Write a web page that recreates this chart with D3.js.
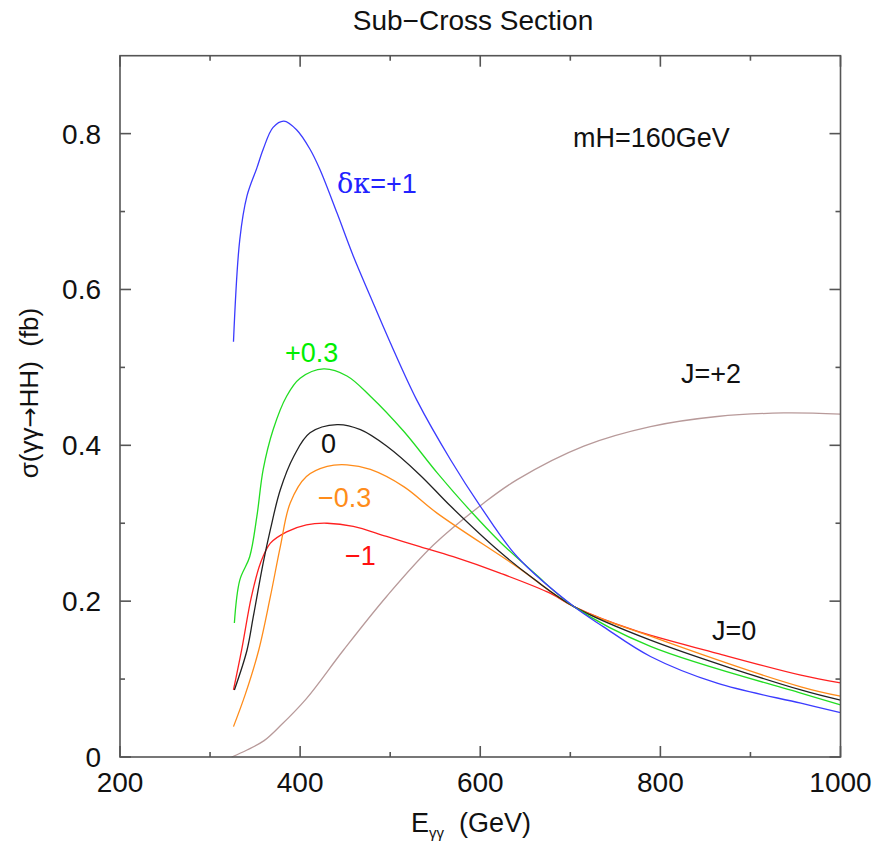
<!DOCTYPE html>
<html><head><meta charset="utf-8">
<script src="https://cdn.jsdelivr.net/npm/d3@7"></script>
<style>body{margin:0;background:#fff}svg{font-family:"Liberation Sans",Arial,sans-serif}</style>
</head><body><svg id="c" width="890" height="843"></svg>
<script>
// ---- data ----
const xTicksMajor = [200, 400, 600, 800, 1000];
const xTicksMinor = [300, 500, 700, 900];
const yTicksMajor = [0, 0.2, 0.4, 0.6, 0.8];
const yTicksMinor = [0.1, 0.3, 0.5, 0.7];
const yTickLabels = ["0", "0.2", "0.4", "0.6", "0.8"];

const ePlus1 = [326, 333, 341, 352, 359, 370, 382, 396, 411, 422, 441, 459, 478, 500, 530, 567, 600, 641, 704, 737, 789, 863, 956, 1000];
const sPlus1 = [0.533, 0.664, 0.72, 0.756, 0.78, 0.808, 0.816, 0.805, 0.78, 0.754, 0.698, 0.643, 0.591, 0.532, 0.457, 0.3815, 0.322, 0.257, 0.193, 0.167, 0.129, 0.0947, 0.069, 0.057];

const ePlus03 = [327, 333, 344, 352, 359, 370, 385, 400, 426, 452, 478, 515, 552, 589, 622, 660, 704, 789, 956, 1000];
const sPlus03 = [0.172, 0.227, 0.257, 0.309, 0.369, 0.42, 0.463, 0.486, 0.498, 0.489, 0.463, 0.418, 0.365, 0.316, 0.276, 0.236, 0.193, 0.142, 0.082, 0.067];

const eZero = [327, 341, 348, 359, 367, 378, 393, 411, 441, 467, 496, 533, 567, 622, 660, 704, 789, 956, 1000];
const sZero = [0.086, 0.137, 0.18, 0.249, 0.292, 0.343, 0.386, 0.416, 0.4265, 0.42, 0.399, 0.362, 0.322, 0.263, 0.228, 0.193, 0.150, 0.086, 0.073];

const eMinus03 = [326, 339, 354, 367, 378, 389, 407, 430, 452, 478, 515, 552, 641, 704, 789, 956, 1000];
const sMinus03 = [0.039, 0.08, 0.137, 0.206, 0.270, 0.326, 0.36, 0.373, 0.375, 0.369, 0.347, 0.313, 0.244, 0.193, 0.155, 0.090, 0.078];

const eMinus1 = [326, 335, 346, 356, 367, 385, 407, 430, 459, 496, 533, 570, 622, 678, 704, 770, 863, 956, 1000];
const sMinus1 = [0.086, 0.137, 0.206, 0.249, 0.2745, 0.289, 0.298, 0.300, 0.296, 0.283, 0.270, 0.257, 0.236, 0.210, 0.193, 0.163, 0.133, 0.105, 0.095];

const eJ2 = [324, 341, 360, 378, 407, 448, 496, 548, 604, 641, 715, 789, 863, 937, 1000];
const sJ2 = [0, 0.009, 0.021, 0.040, 0.075, 0.137, 0.206, 0.272, 0.326, 0.356, 0.399, 0.424, 0.437, 0.4415, 0.440];

const seriesNames = ["δκ=+1", "+0.3", "0", "−0.3", "−1", "J=+2"];

// ---- drawing ----
const svg = d3.select("#c");
const L = 120, R = 840.5, T = 55.7, B = 757;
const x = d3.scaleLinear().domain([200, 1000]).range([L, R]);
const y = d3.scaleLinear().domain([0, 0.9]).range([B, T]);
const axisColor = "#555";

const series = [
  {e: ePlus1, s: sPlus1, c: "#3b3bff"},
  {e: ePlus03, s: sPlus03, c: "#22dd22"},
  {e: eZero, s: sZero, c: "#222"},
  {e: eMinus03, s: sMinus03, c: "#ff8c1a"},
  {e: eMinus1, s: sMinus1, c: "#ff2020"},
  {e: eJ2, s: sJ2, c: "#b89a9a"}
];
const line = d3.line().x(d => x(d[0])).y(d => y(d[1])).curve(d3.curveCatmullRom.alpha(0.5));
const g = svg.append("g");
series.slice().reverse().forEach(sr => {
  g.append("path").attr("d", line(sr.e.map((v, i) => [v, sr.s[i]])))
    .attr("fill", "none").attr("stroke", sr.c).attr("stroke-width", 1.3);
});

// frame
svg.append("rect").attr("x", L).attr("y", T).attr("width", R - L).attr("height", B - T)
  .attr("fill", "none").attr("stroke", axisColor).attr("stroke-width", 1.6);

const MJ = 11, MN = 5;
function tickX(v, len) {
  svg.append("line").attr("x1", x(v)).attr("x2", x(v)).attr("y1", B).attr("y2", B - len).attr("stroke", axisColor).attr("stroke-width", 1.6);
  svg.append("line").attr("x1", x(v)).attr("x2", x(v)).attr("y1", T).attr("y2", T + len).attr("stroke", axisColor).attr("stroke-width", 1.6);
}
function tickY(v, len) {
  svg.append("line").attr("x1", L).attr("x2", L + len).attr("y1", y(v)).attr("y2", y(v)).attr("stroke", axisColor).attr("stroke-width", 1.6);
  svg.append("line").attr("x1", R).attr("x2", R - len).attr("y1", y(v)).attr("y2", y(v)).attr("stroke", axisColor).attr("stroke-width", 1.6);
}
xTicksMajor.forEach(v => tickX(v, MJ));
xTicksMinor.forEach(v => tickX(v, MN));
yTicksMajor.forEach(v => tickY(v, MJ));
yTicksMinor.forEach(v => tickY(v, MN));

const fs = 28;
xTicksMajor.forEach(v => svg.append("text").attr("x", x(v)).attr("y", 792).attr("text-anchor", "middle")
  .attr("font-size", fs).attr("fill", "#111").text(v));
yTicksMajor.forEach((v, i) => svg.append("text").attr("x", 101).attr("y", y(v) + 10).attr("text-anchor", "end")
  .attr("font-size", fs).attr("fill", "#111").text(yTickLabels[i]));

// title
svg.append("text").attr("x", 473).attr("y", 30).attr("text-anchor", "middle").attr("font-size", 28).attr("fill", "#111").text("Sub−Cross Section");

// x label
const xl = svg.append("text").attr("x", 471).attr("y", 832).attr("text-anchor", "middle").attr("font-size", 27).attr("fill", "#111");
xl.append("tspan").text("E");
xl.append("tspan").attr("font-size", 15).attr("dy", 6).text("γγ");
xl.append("tspan").attr("dy", -6).text("\u00a0\u00a0(GeV)");

// y label
const yl = svg.append("text").attr("transform", "translate(38,393) rotate(-90)").attr("text-anchor", "middle")
  .attr("font-size", 26).attr("fill", "#111");
yl.append("tspan").text("σ(γγ");
yl.append("tspan").attr("font-family", "DejaVu Sans").attr("font-size", 24).text("→");
yl.append("tspan").text("HH)\u00a0\u00a0(fb)");

// annotations
const ann = [
  {t: seriesNames[1], x: 285, y: 362, c: "#00ee00"},
  {t: seriesNames[2], x: 321, y: 453, c: "#111"},
  {t: seriesNames[3], x: 318, y: 507, c: "#ff8c1a"},
  {t: seriesNames[4], x: 345, y: 565, c: "#ff1010"},
  {t: seriesNames[5], x: 681, y: 383, c: "#111"},
  {t: "J=0", x: 712, y: 640, c: "#111"},
  {t: "mH=160GeV", x: 573, y: 147, c: "#111"}
];
ann.forEach(a => svg.append("text").attr("x", a.x).attr("y", a.y).attr("font-size", 27).attr("fill", a.c).text(a.t));
// δκ label with Greek in serif face
const dk = svg.append("text").attr("x", 337).attr("y", 193).attr("font-size", 27).attr("fill", "#2222ff");
dk.append("tspan").attr("font-family", "DejaVu Serif").text(seriesNames[0].slice(0, 2));
dk.append("tspan").text(seriesNames[0].slice(2));
</script></body></html>
